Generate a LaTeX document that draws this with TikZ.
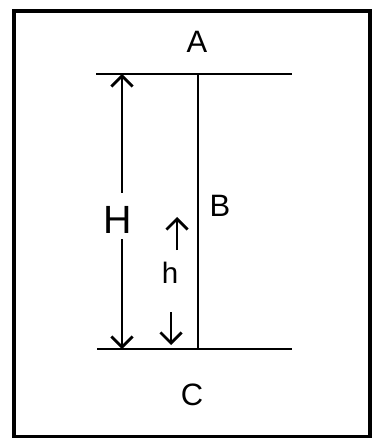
\documentclass[tikz,border=0pt]{standalone}
\usepackage{fontspec}
\setmainfont{Liberation Sans}
\usetikzlibrary{arrows.meta}
\tikzset{
  lbl/.style={inner sep=0pt, font=\fontsize{22}{26}\selectfont},
  dimarrow/.style={line width=2pt, -{Straight Barb[length=7.5pt, width=15pt, line width=2pt]}}
}
\begin{document}
\begin{tikzpicture}[x=0.025cm, y=-0.025cm, line width=2.1pt]
  \useasboundingbox (0,0) rectangle (373,438);
  \draw[line width=2.6pt] (14,11) rectangle (370,437);
  % the two levels and the pipe
  \coordinate (TL) at (96,74); \coordinate (TR) at (292,74);
  \coordinate (BL) at (97,349); \coordinate (BR) at (292,349);
  \coordinate (Ptop) at (198,74); \coordinate (Pbot) at (198,349);
  \draw (TL) -- (TR);
  \draw (BL) -- (BR);
  \draw (Ptop) -- (Pbot);
  \node[lbl] (A) at (197,42) {A};
  \node[lbl] (B) at (220,206) {B};
  \node[lbl] (C) at (192,395) {C};
  % height H
  \node[lbl, font=\fontsize{28}{32}\selectfont] (H) at (118,220) {H};
  \coordinate (Htop) at (122,74); \coordinate (Hbot) at (122,349);
  \coordinate (Hup) at (122,193); \coordinate (Hdn) at (122,239);
  \draw[dimarrow] (Hup) -- (Htop);
  \draw[dimarrow] (Hdn) -- (Hbot);
  % height h
  \node[lbl, font=\fontsize{21}{24}\selectfont] (h) at (170,273) {h};
  \coordinate (hu1) at (177,250); \coordinate (hu2) at (177,217);
  \coordinate (hd1) at (171,312); \coordinate (hd2) at (171,345);
  \draw[dimarrow] (hu1) -- (hu2);
  \draw[dimarrow] (hd1) -- (hd2);
\end{tikzpicture}
\end{document}
